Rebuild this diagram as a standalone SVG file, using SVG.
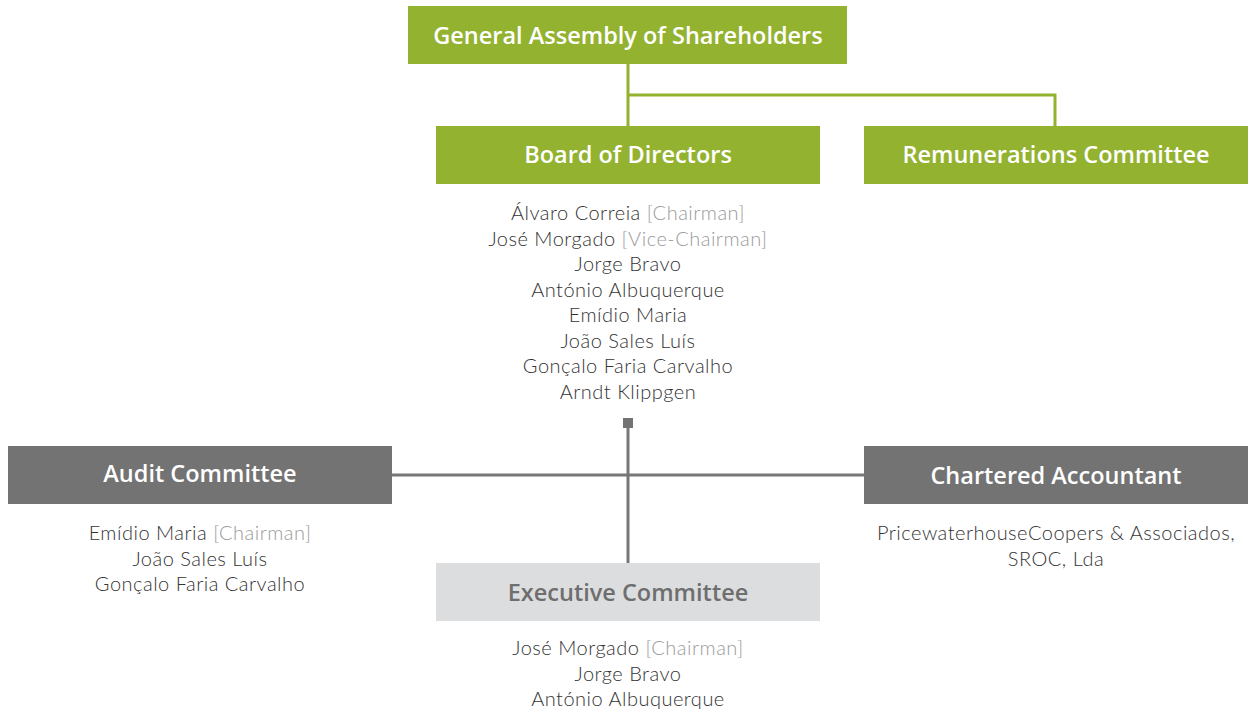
<svg xmlns="http://www.w3.org/2000/svg" width="1249" height="714" viewBox="0 0 1249 714">
  <style>
    .green { fill: #93b22f; }
    .dark { fill: #737373; }
    .light { fill: #dcdddf; }
    .title { font-family: "Open Sans", "Liberation Sans", sans-serif; font-weight: 600; font-size: 23.5px; text-anchor: middle; fill: #ffffff; }
    .title.muted { fill: #6e6e6e; }
    .body { font-family: "Lato", "Liberation Sans", sans-serif; font-weight: 300; font-size: 20px; letter-spacing: 0.5px; text-anchor: middle; fill: #333333; }
    .role { fill: #9a9a9a; }
    .link-green { stroke: #93b22f; stroke-width: 3; fill: none; }
    .link-gray { stroke: #777777; stroke-width: 3; fill: none; }
  </style>

  <g id="connectors">
    <path class="link-green" d="M628 64 V126 M628 95 H1055 V126"/>
    <path class="link-gray" d="M628 428 V563 M392 475 H864"/>
    <rect x="623" y="418" width="10" height="10" fill="#737373"/>
  </g>

  <g id="general-assembly">
    <rect class="green" x="408" y="6" width="439" height="58"/>
    <text class="title" x="628" y="44">General Assembly of Shareholders</text>
  </g>

  <g id="board-of-directors">
    <rect class="green" x="436" y="126" width="384" height="58"/>
    <text class="title" x="628" y="163">Board of Directors</text>
    <text class="body" x="628" y="220">Álvaro Correia <tspan class="role">[Chairman]</tspan></text>
    <text class="body" x="628" y="246">José Morgado <tspan class="role">[Vice-Chairman]</tspan></text>
    <text class="body" x="628" y="271">Jorge Bravo</text>
    <text class="body" x="628" y="297">António Albuquerque</text>
    <text class="body" x="628" y="322">Emídio Maria</text>
    <text class="body" x="628" y="348">João Sales Luís</text>
    <text class="body" x="628" y="373">Gonçalo Faria Carvalho</text>
    <text class="body" x="628" y="399">Arndt Klippgen</text>
  </g>

  <g id="remunerations-committee">
    <rect class="green" x="864" y="126" width="384" height="58"/>
    <text class="title" x="1056" y="163">Remunerations Committee</text>
  </g>

  <g id="audit-committee">
    <rect class="dark" x="8" y="446" width="384" height="58"/>
    <text class="title" x="200" y="482">Audit Committee</text>
    <text class="body" x="200" y="540">Emídio Maria <tspan class="role">[Chairman]</tspan></text>
    <text class="body" x="200" y="566">João Sales Luís</text>
    <text class="body" x="200" y="591">Gonçalo Faria Carvalho</text>
  </g>

  <g id="chartered-accountant">
    <rect class="dark" x="864" y="446" width="384" height="58"/>
    <text class="title" x="1056" y="484">Chartered Accountant</text>
    <text class="body" x="1056" y="540">PricewaterhouseCoopers &amp; Associados,</text>
    <text class="body" x="1056" y="566">SROC, Lda</text>
  </g>

  <g id="executive-committee">
    <rect class="light" x="436" y="563" width="384" height="58"/>
    <text class="title muted" x="628" y="601">Executive Committee</text>
    <text class="body" x="628" y="655">José Morgado <tspan class="role">[Chairman]</tspan></text>
    <text class="body" x="628" y="681">Jorge Bravo</text>
    <text class="body" x="628" y="706">António Albuquerque</text>
  </g>
</svg>
